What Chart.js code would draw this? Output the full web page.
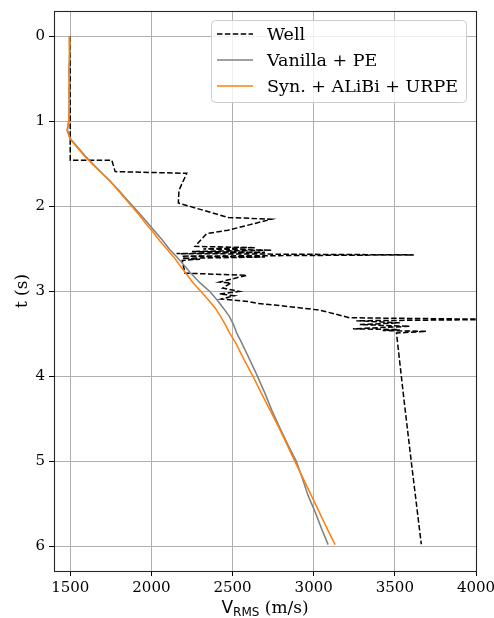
<!DOCTYPE html>
<html><head><meta charset="utf-8">
<script src="https://cdn.jsdelivr.net/npm/chart.js@4.4.0/dist/chart.umd.min.js"></script>
<style>html,body{margin:0;padding:0;background:#fff;}</style>
</head><body>
<canvas id="c" width="494" height="618"></canvas>
<script>
// ---- data ----
const xTicks = [1500, 2000, 2500, 3000, 3500, 4000];
const yTicks = [0, 1, 2, 3, 4, 5, 6];
const seriesLabels = ['Well', 'Vanilla + PE', 'Syn. + ALiBi + URPE'];

const modelT = [0, 0.2, 0.4, 0.6, 0.8, 1.0, 1.1, 1.2, 1.3, 1.4, 1.5, 1.6, 1.7, 1.8, 1.9, 2.0, 2.1, 2.2, 2.3, 2.4, 2.5, 2.6, 2.7, 2.8, 2.9, 3.0, 3.1, 3.2, 3.3, 3.4, 3.5, 3.6, 3.8, 4.0, 4.2, 4.4, 4.6, 4.8, 5.0, 5.2, 5.4, 5.6, 5.8, 5.98];
const vanillaV = [1495, 1497, 1492, 1496, 1493, 1492, 1483, 1500, 1545, 1590, 1640, 1692, 1745, 1795, 1840, 1888, 1935, 1980, 2025, 2070, 2110, 2160, 2205, 2250, 2300, 2360, 2405, 2445, 2482, 2508, 2528, 2555, 2605, 2654, 2700, 2742, 2790, 2840, 2893, 2930, 2965, 3010, 3050, 3089];
const synV = [1497, 1493, 1496, 1492, 1495, 1490, 1480, 1497, 1540, 1585, 1635, 1690, 1745, 1790, 1835, 1880, 1925, 1965, 2010, 2050, 2095, 2140, 2178, 2218, 2258, 2305, 2352, 2395, 2428, 2458, 2485, 2518, 2570, 2626, 2678, 2732, 2785, 2835, 2884, 2935, 2985, 3035, 3085, 3132];

const wellT = [0, 1.455, 1.455, 1.59, 1.61, 1.81, 1.96, 2.13, 2.15, 2.28, 2.32, 2.47, 2.485, 2.50, 2.515, 2.53, 2.54, 2.555, 2.57, 2.585, 2.595, 2.61, 2.62, 2.635, 2.785, 2.81, 2.89, 2.90, 2.96, 3.00, 3.03, 3.05, 3.09, 3.12, 3.14, 3.16, 3.22, 3.31, 3.33, 3.345, 3.37, 3.39, 3.41, 3.44, 3.45, 3.46, 3.47, 3.49, 4.27, 5.0, 5.975];
const wellV = [1500, 1500, 1756, 1777, 2218, 2170, 2166, 2474, 2740, 2472, 2340, 2269, 2640, 2320, 2740, 2250, 2700, 2155, 3617, 2187, 2700, 2190, 2300, 2190, 2207, 2588, 2420, 2490, 2440, 2540, 2420, 2510, 2430, 2600, 2650, 2760, 3037, 3222, 4200, 3263, 3530, 3284, 3591, 3242, 3530, 3425, 3694, 3510, 3556, 3601, 3663];

// ---- styles ----
const COLORS = ['#000000', '#808080', '#ff7f0e'];
const SERIF = '"DejaVu Serif", serif';
const SANS = '"DejaVu Sans", sans-serif';

function pts(xs, ys) { return xs.map((x, i) => ({ x: x, y: ys[i] })); }

const overlay = {
  id: 'overlay',
  afterDatasetsDraw(chart) {
    const ctx = chart.ctx, a = chart.chartArea;
    ctx.save();
    ctx.strokeStyle = '#262626';
    ctx.lineWidth = 1.1;
    ctx.strokeRect(Math.round(a.left) + 0.5, Math.round(a.top) + 0.5, Math.round(a.right - a.left), Math.round(a.bottom - a.top));
    ctx.restore();
  },
  afterDraw(chart) {
    const ctx = chart.ctx, a = chart.chartArea;
    ctx.save();
    // legend
    const lx = 211.5, ly = 20.5, lw = 255, lh = 82;
    ctx.beginPath();
    ctx.roundRect(lx, ly, lw, lh, 4);
    ctx.fillStyle = 'rgba(255,255,255,0.8)';
    ctx.fill();
    ctx.strokeStyle = '#cccccc';
    ctx.lineWidth = 1;
    ctx.stroke();
    const rows = [34, 60, 86];
    ctx.font = '17.5px ' + SERIF;
    ctx.textBaseline = 'middle';
    ctx.textAlign = 'left';
    seriesLabels.forEach((lab, i) => {
      ctx.beginPath();
      ctx.strokeStyle = COLORS[i];
      ctx.lineWidth = 1.5;
      ctx.setLineDash(i === 0 ? [5.5, 2.4] : []);
      ctx.moveTo(217, rows[i]);
      ctx.lineTo(253, rows[i]);
      ctx.stroke();
      ctx.setLineDash([]);
      ctx.fillStyle = '#000';
      ctx.fillText(lab, 267, rows[i] + 1);
    });
    // x axis title with subscript
    const cx = (a.left + a.right) / 2;
    const base = 613;
    const p1 = 'V', p2 = 'RMS', p3 = ' (m/s)';
    ctx.textBaseline = 'alphabetic';
    ctx.font = '17px ' + SANS; const w1 = ctx.measureText(p1).width;
    ctx.font = '12px ' + SANS; const w2 = ctx.measureText(p2).width;
    ctx.font = '17px ' + SERIF; const w3 = ctx.measureText(p3).width;
    let x = cx - (w1 + w2 + w3) / 2;
    ctx.fillStyle = '#000';
    ctx.font = '17px ' + SANS; ctx.fillText(p1, x, base); x += w1;
    ctx.font = '12px ' + SANS; ctx.fillText(p2, x, base + 3); x += w2;
    ctx.font = '17px ' + SERIF; ctx.fillText(p3, x, base);
    // y axis title
    ctx.save();
    ctx.translate(27, (a.top + a.bottom) / 2);
    ctx.rotate(-Math.PI / 2);
    ctx.textAlign = 'center';
    ctx.font = '17px ' + SERIF;
    ctx.fillText('t (s)', 0, 0);
    ctx.restore();
    ctx.restore();
  }
};

new Chart(document.getElementById('c'), {
  type: 'scatter',
  data: {
    datasets: [
      { label: seriesLabels[0], data: pts(wellV, wellT), showLine: true, borderColor: COLORS[0], borderWidth: 1.5, borderDash: [5.5, 2.4], pointRadius: 0, order: 2, tension: 0 },
      { label: seriesLabels[1], data: pts(vanillaV, modelT), showLine: true, borderColor: COLORS[1], borderWidth: 1.5, pointRadius: 0, order: 1, tension: 0 },
      { label: seriesLabels[2], data: pts(synV, modelT), showLine: true, borderColor: COLORS[2], borderWidth: 1.5, pointRadius: 0, order: 0, tension: 0 }
    ]
  },
  options: {
    responsive: false,
    animation: false,
    layout: { padding: { top: 11, right: 18, left: 0, bottom: 0 } },
    plugins: { legend: { display: false }, tooltip: { enabled: false } },
    scales: {
      x: {
        type: 'linear', min: 1400, max: 4000,
        afterBuildTicks: s => { s.ticks = xTicks.map(v => ({ value: v })); },
        afterFit: s => { s.height = 47; s.paddingLeft = 0; s.paddingRight = 0; },
        grid: { color: '#b0b0b0', lineWidth: 1, tickColor: '#000', tickLength: 5, drawTicks: true },
        border: { display: false },
        ticks: { font: { family: 'DejaVu Serif', size: 15 }, color: '#000', padding: 3, maxRotation: 0, autoSkip: false, callback: v => String(v) }
      },
      y: {
        type: 'linear', min: -0.3, max: 6.29, reverse: true,
        afterBuildTicks: s => { s.ticks = yTicks.map(v => ({ value: v })); },
        afterFit: s => { s.width = 54; s.paddingTop = 0; s.paddingBottom = 0; },
        grid: { color: '#b0b0b0', lineWidth: 1, tickColor: '#000', tickLength: 5, drawTicks: true },
        border: { display: false },
        ticks: { font: { family: 'DejaVu Serif', size: 15 }, color: '#000', padding: 4, autoSkip: false, callback: v => String(v) }
      }
    }
  },
  plugins: [overlay]
});
</script>
</body></html>
